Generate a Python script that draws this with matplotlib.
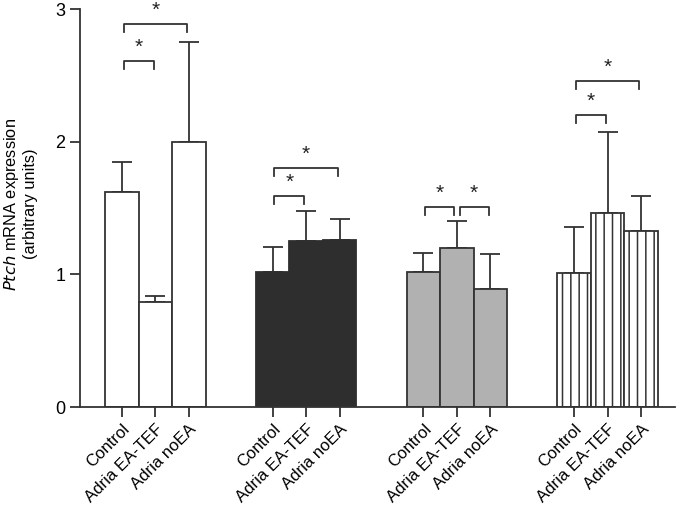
import numpy as np
from matplotlib import pyplot as plt

plt.rcParams['font.family'] = ['Liberation Sans', 'DejaVu Sans']

labels = ['Control', 'Adria EA-TEF', 'Adria noEA']
means = [
    [1.62, 0.79, 2.00],
    [1.02, 1.25, 1.26],
    [1.02, 1.20, 0.89],
    [1.01, 1.46, 1.33],
]
err_top = [
    [1.85, 0.84, 2.75],
    [1.21, 1.48, 1.42],
    [1.16, 1.40, 1.15],
    [1.36, 2.07, 1.59],
]
# (group, bar a, bar b, bracket height)
brackets = [
    (0, 0, 1, 2.61), (0, 0, 2, 2.89),
    (1, 0, 1, 1.59), (1, 0, 2, 1.80),
    (2, 0, 1, 1.51), (2, 1, 2, 1.51),
    (3, 0, 1, 2.20), (3, 0, 2, 2.46),
]

faces = ['white', '#2e2e2e', '#b1b1b1', 'white']
hatches = [None, None, None, '||']
edge = '#333333'
gap = 4.5

plt.rcParams['hatch.color'] = edge
plt.rcParams['hatch.linewidth'] = 1.1

fig = plt.figure(figsize=(6.85, 5.05), dpi=100)
ax = fig.add_axes([0.1168, 0.194, 0.868, 0.788])

ticks = []
ticklabels = []
for g in range(4):
    x = g * gap + np.arange(3)
    m = np.array(means[g])
    e = np.array(err_top[g]) - m
    ec = faces[g] if g == 1 else edge
    ax.bar(x, m, width=1.0, color=faces[g], edgecolor=ec, linewidth=1.3,
           hatch=hatches[g], zorder=2)
    ax.errorbar(x, m, yerr=[np.zeros(3), e], fmt='none', ecolor=edge,
                elinewidth=1.3, capsize=7.5, capthick=1.3, zorder=1)
    ticks += list(x)
    ticklabels += labels

for g, a, b, h in brackets:
    xa = g * gap + a + 0.05
    xb = g * gap + b - 0.05
    if g == 2 and a == 1:
        xa += 0.03
    if g == 2 and b == 1:
        xb -= 0.03
    ax.plot([xa, xa, xb, xb], [h - 0.06, h, h, h - 0.06], color=edge,
            lw=1.3, clip_on=False)
    ax.text((xa + xb) / 2, h + 0.03, '*', ha='center', va='bottom',
            fontsize=15, color='#222222')

ax.set_xlim(-1.25, 16.5)
ax.set_ylim(0, 3)
ax.set_yticks([0, 1, 2, 3])
ax.set_xticks(ticks)
ax.set_xticklabels(ticklabels, rotation=45, ha='right', rotation_mode='anchor',
                   fontsize=12)
ax.tick_params(axis='y', labelsize=13, length=7, width=1.3, color=edge)
ax.tick_params(axis='x', length=7, width=1.3, color=edge)
ax.spines['top'].set_visible(False)
ax.spines['right'].set_visible(False)
ax.spines['left'].set_linewidth(1.3)
ax.spines['bottom'].set_linewidth(1.3)
ax.spines['left'].set_color(edge)
ax.spines['bottom'].set_color(edge)
ax.set_ylabel('$\\it{Ptch}$ mRNA expression\n(arbitrary units)', fontsize=11.8)
ax.yaxis.set_label_coords(-0.07, 0.51)

fig.savefig('out.png', dpi=100)
